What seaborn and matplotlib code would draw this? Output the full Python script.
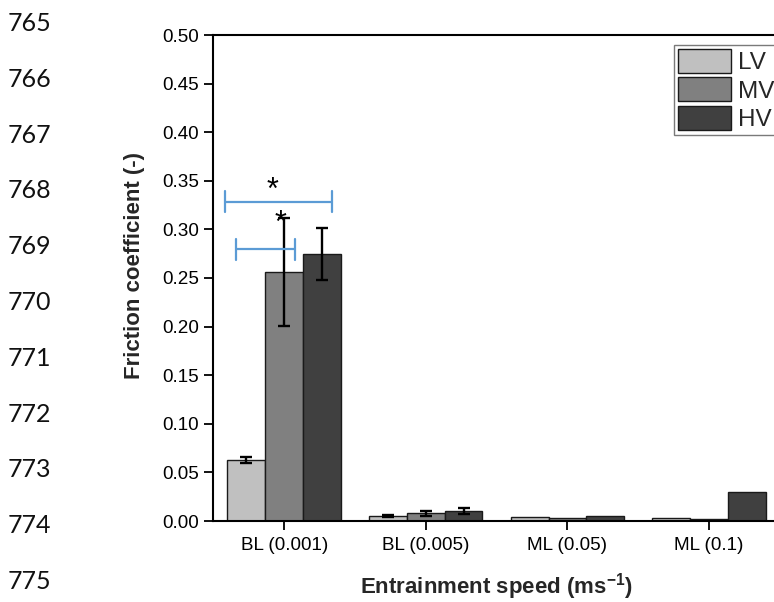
import numpy as np
import pandas as pd
import matplotlib
matplotlib.use("Agg")
import matplotlib.pyplot as plt
import seaborn as sns

# ---------------- data ----------------
categories = ["BL (0.001)", "BL (0.005)", "ML (0.05)", "ML (0.1)"]
groups = ["LV", "MV", "HV"]
lv_values = [0.0628, 0.0053, 0.0037, 0.0027]
mv_values = [0.2565, 0.0079, 0.0036, 0.0017]
hv_values = [0.2744, 0.0103, 0.0048, 0.0298]
lv_err = [0.0034, 0.0010, np.nan, np.nan]
mv_err = [0.0554, 0.0025, np.nan, np.nan]
hv_err = [0.0267, 0.0030, np.nan, np.nan]
y_ticks = [0.00, 0.05, 0.10, 0.15, 0.20, 0.25, 0.30, 0.35, 0.40, 0.45, 0.50]
line_numbers = [765, 766, 767, 768, 769, 770, 771, 772, 773, 774, 775]
# significance brackets: (x start, x end, level) and star labels
sig_brackets = [(-0.419, 0.335, 0.3285), (-0.343, 0.076, 0.2795)]
sig_stars = [(-0.082, 0.3467), (-0.023, 0.313)]

colors = ["#c0c0c0", "#808080", "#404040"]

# ---------------- table ----------------
values = {"LV": lv_values, "MV": mv_values, "HV": hv_values}
errors = {"LV": lv_err, "MV": mv_err, "HV": hv_err}
rows = []
for g in groups:
    for c, v in zip(categories, values[g]):
        rows.append({"speed": c, "group": g, "value": v})
df = pd.DataFrame(rows)

sns.set_style("ticks")
plt.rcParams["font.family"] = ["Liberation Sans", "DejaVu Sans"]
plt.rcParams["mathtext.fontset"] = "custom"
plt.rcParams["mathtext.rm"] = "Liberation Sans"
plt.rcParams["mathtext.bf"] = "Liberation Sans:bold"

W, H = 774, 602
fig = plt.figure(figsize=(W / 100, H / 100), dpi=100)
ax_left, ax_right, ax_bottom, ax_top = 213.3, 780.0, 521.0, 35.0
ax = fig.add_axes([ax_left / W, 1 - ax_bottom / H,
                   (ax_right - ax_left) / W, (ax_bottom - ax_top) / H])

sns.barplot(data=df, x="speed", y="value", hue="group", order=categories,
            hue_order=groups, palette=colors, errorbar=None, width=0.8,
            edgecolor="#1a1a1a", linewidth=1.0, saturation=1, ax=ax)

# error bars at bar centers
for g, cont in zip(groups, ax.containers):
    xs = [p.get_x() + p.get_width() / 2 for p in cont.patches]
    hs = [p.get_height() for p in cont.patches]
    ax.errorbar(xs, hs, yerr=errors[g], fmt="none", ecolor="black",
                elinewidth=1.7, capsize=4, capthick=1.7, zorder=5)

# significance brackets
blue = "#5b9bd5"
for x0, x1, yb in sig_brackets:
    ax.plot([x0, x1], [yb, yb], color=blue, lw=1.6, zorder=6, solid_capstyle="butt")
    for xe in (x0, x1):
        ax.plot([xe, xe], [yb - 0.011, yb + 0.011], color=blue, lw=1.6, zorder=6)
for xs_, ys_ in sig_stars:
    ax.text(xs_, ys_ - 0.0158, "*", ha="center", va="baseline", fontsize=22,
            color="black", zorder=7)

ax.set_xlim(-0.5, 3.5)
ax.set_ylim(0, 0.5)
ax.set_yticks(y_ticks)
ax.set_yticklabels([f"{t:.2f}" for t in y_ticks])
ax.tick_params(axis="both", direction="out", length=6.5, width=1.3,
               labelsize=13.6, color="black", labelcolor="black")
ax.tick_params(axis="y", pad=4)
ax.tick_params(axis="x", pad=5)

for side in ["left", "bottom", "top"]:
    ax.spines[side].set_visible(True)
    ax.spines[side].set_linewidth(1.5)
    ax.spines[side].set_color("black")
ax.spines["right"].set_visible(False)

ax.set_xlabel("Entrainment speed (ms$^{\\mathbf{-1}}$)", fontsize=16, fontweight="bold")
ax.set_ylabel("Friction coefficient (-)", fontsize=16, fontweight="bold")
ax.xaxis.set_label_coords(0.5, -0.103)
ax.yaxis.set_label_coords(-0.121, 0.525)

# legend
handles, labels = ax.get_legend_handles_labels()
if ax.get_legend() is not None:
    ax.get_legend().remove()
leg = ax.legend(handles, labels, loc="upper left",
                bbox_to_anchor=(674 / W, 1 - 45 / H), bbox_transform=fig.transFigure,
                borderaxespad=0, frameon=True, fancybox=False, fontsize=17.5,
                handlelength=2.18, handleheight=1.15, labelspacing=0.12,
                borderpad=0.17, handletextpad=0.3)
leg.get_frame().set_edgecolor("#7a7a7a")
leg.get_frame().set_linewidth(1.0)
leg.get_frame().set_alpha(1)
for p in leg.get_patches():
    p.set_edgecolor("#1a1a1a")

# manuscript line numbers
for i, n in enumerate(line_numbers):
    fig.text(8 / W, 1 - (23.5 + i * 55.8) / H, str(n), ha="left", va="center",
             fontsize=18, family=["Lato", "DejaVu Sans"], color="#111111")

fig.savefig("out.png", dpi=100)
